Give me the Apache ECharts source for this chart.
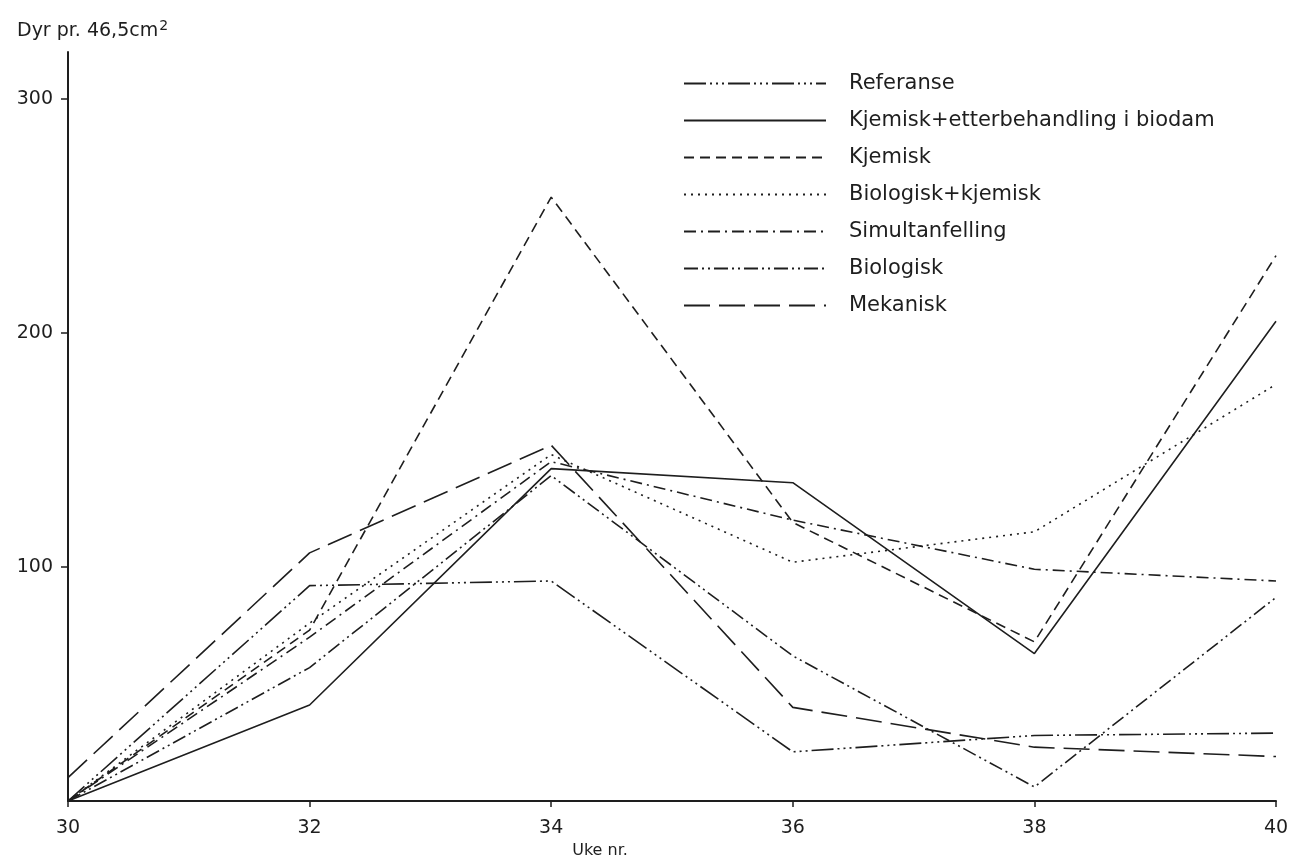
<!DOCTYPE html>
<html>
<head>
<meta charset="utf-8">
<script src="https://cdn.jsdelivr.net/npm/echarts@6/dist/echarts.min.js"></script>
<style>html,body{margin:0;padding:0;background:#fff;}#c{width:1305px;height:861px;}</style>
</head>
<body>
<div id="c"></div>
<script>
const weeks = [30, 32, 34, 36, 38, 40];
const yTicks = [100, 200, 300];
const seriesNames = ['Referanse', 'Kjemisk+etterbehandling i biodam', 'Kjemisk', 'Biologisk+kjemisk', 'Simultanfelling', 'Biologisk', 'Mekanisk'];
const referanse  = [0, 92, 94, 21, 28, 29];
const kjemEtter  = [0, 41, 142, 136, 63, 205];
const kjemisk    = [0, 73, 258, 119, 68, 233];
const bioKjem    = [0, 76, 148, 102, 115, 178];
const simult     = [0, 70, 145, 120, 99, 94];
const biologisk  = [0, 57, 139, 62, 6, 87];
const mekanisk   = [10, 106, 152, 40, 23, 19];

const values = [referanse, kjemEtter, kjemisk, bioKjem, simult, biologisk, mekanisk];
const dashes = [
  [22, 4, 2, 4, 2, 4, 2, 4],
  'solid',
  [10, 6],
  [2, 5],
  [12, 5, 2, 5],
  [14, 4, 2, 4, 2, 4],
  [26, 9]
];
const ink = '#1e1e1e';
const font = 'DejaVu Sans';

const chart = echarts.init(document.getElementById('c'), null, {renderer: 'canvas'});
chart.setOption({
  animation: false,
  backgroundColor: '#fff',
  title: {
    text: 'Dyr pr. 46,5cm{sup|2}',
    left: 12, top: 14,
    textStyle: {
      fontFamily: font, fontSize: 19, fontWeight: 'normal', color: ink,
      rich: { sup: { fontFamily: font, fontSize: 14, color: ink, verticalAlign: 'top', padding: [0, 0, 10, 1] } }
    }
  },
  legend: {
    orient: 'vertical',
    left: 678, top: 68,
    itemWidth: 142, itemHeight: 18, itemGap: 16,
    data: seriesNames,
    itemStyle: { opacity: 0 },
    textStyle: { fontFamily: font, fontSize: 21, color: ink, padding: [0, 0, 0, 18], lineHeight: 21 }
  },
  grid: { left: 68, right: 29, top: 52, bottom: 60, containLabel: false, outerBoundsMode: 'none' },
  xAxis: {
    type: 'value', min: 30, max: 40, interval: 2,
    name: 'Uke nr.', nameLocation: 'middle', nameGap: 40,
    nameTextStyle: { fontFamily: font, fontSize: 16, color: ink, padding: [0, 144, 0, 0] },
    axisLine: { show: true, lineStyle: { color: ink, width: 2 } },
    axisTick: { show: true, length: 6, lineStyle: { color: ink, width: 1.5 } },
    axisLabel: { fontFamily: font, fontSize: 19, color: ink, margin: 18 },
    splitLine: { show: false }
  },
  yAxis: {
    type: 'value', min: 0, max: 320,
    axisLine: { show: true, lineStyle: { color: ink, width: 2 } },
    axisTick: { show: true, length: 7, customValues: yTicks, lineStyle: { color: ink, width: 1.5 } },
    axisLabel: { fontFamily: font, fontSize: 19, color: ink, margin: 15, customValues: yTicks },
    splitLine: { show: false }
  },
  series: seriesNames.map((n, i) => ({
    name: n,
    type: 'line',
    symbol: 'none',
    data: weeks.map((w, j) => [w, values[i][j]]),
    lineStyle: { color: ink, width: 1.6, type: dashes[i] },
    itemStyle: { color: ink },
    z: 2
  }))
});
</script>
</body>
</html>
